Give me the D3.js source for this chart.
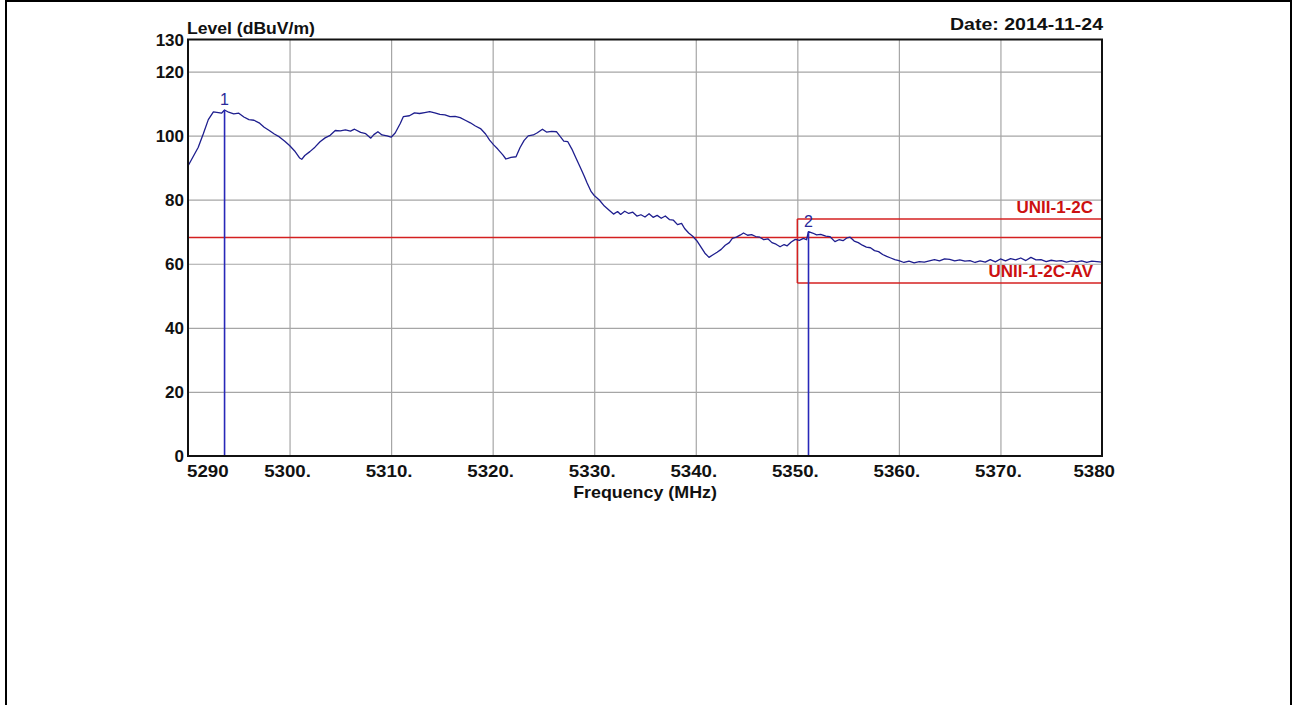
<!DOCTYPE html>
<html>
<head>
<meta charset="utf-8">
<script src="https://cdn.jsdelivr.net/npm/d3@7"></script>
<style>
  html, body { margin: 0; padding: 0; background: #fff; }
  svg { display: block; }
  text { font-family: "Liberation Sans", Arial, sans-serif; }
</style>
</head>
<body>
<svg id="chart" width="1292" height="705"></svg>
<script>
// ---------------- data ----------------
const freqTicks = [5290, 5300, 5310, 5320, 5330, 5340, 5350, 5360, 5370, 5380];
const freqTickLabels = ["5290", "5300.", "5310.", "5320.", "5330.", "5340.", "5350.", "5360.", "5370.", "5380"];
const levelTicks = [0, 20, 40, 60, 80, 100, 120, 130];
const levelTickLabels = ["0", "20", "40", "60", "80", "100", "120", "130"];
const levelGrid = [20, 40, 60, 80, 100, 120];

// measured trace: [frequency MHz, level dBuV/m]
const trace = [
  [5290.0,90.5],[5290.5,93.4],[5291.0,96.3],[5291.5,100.5],[5292.0,105.0],[5292.5,107.4],
  [5293.0,107.2],[5293.3,107.0],[5293.6,108.0],[5294.0,107.3],[5294.5,106.8],[5295.0,107.0],
  [5295.5,105.8],[5296.0,105.0],[5296.5,104.8],[5297.0,104.0],[5297.5,102.6],[5298.0,101.6],
  [5298.5,100.5],[5299.0,99.6],[5299.5,98.3],[5300.0,96.9],[5300.5,95.2],[5301.0,93.0],
  [5301.2,92.6],[5301.5,93.8],[5302.0,95.0],[5302.5,96.4],[5303.0,98.1],[5303.5,99.3],
  [5304.0,100.1],[5304.5,101.6],[5305.0,101.5],[5305.5,101.8],[5306.0,101.4],[5306.4,102.0],
  [5307.0,101.0],[5307.5,100.6],[5308.0,99.2],[5308.3,100.3],[5308.7,101.2],[5309.1,100.2],
  [5309.6,99.9],[5310.0,99.5],[5310.4,100.8],[5310.9,103.8],[5311.2,105.9],[5311.8,106.2],
  [5312.3,107.1],[5312.8,106.9],[5313.3,107.2],[5313.8,107.5],[5314.3,107.1],[5314.8,106.6],
  [5315.3,106.5],[5315.8,105.9],[5316.3,106.0],[5316.8,105.6],[5317.3,104.8],[5317.8,104.0],
  [5318.3,103.0],[5318.8,102.2],[5319.3,100.5],[5319.7,98.6],[5320.1,97.1],[5320.5,95.8],
  [5321.0,94.0],[5321.3,92.7],[5321.8,93.2],[5322.3,93.4],[5322.7,96.3],[5323.1,98.5],
  [5323.5,99.9],[5324.0,100.2],[5324.4,100.9],[5324.9,102.0],[5325.3,101.1],[5325.8,101.3],
  [5326.3,101.2],[5326.7,99.5],[5327.0,98.3],[5327.4,98.1],[5327.8,95.8],[5328.2,93.0],
  [5328.6,90.3],[5329.0,87.5],[5329.3,85.2],[5329.7,82.5],[5330.0,81.3],[5330.5,79.9],
  [5331.0,78.0],[5331.5,76.6],[5331.9,75.5],[5332.3,76.3],[5332.6,75.4],[5333.0,76.4],
  [5333.4,75.7],[5333.8,76.1],[5334.2,74.9],[5334.6,75.3],[5335.0,74.6],[5335.4,75.6],
  [5335.8,74.5],[5336.2,75.1],[5336.6,74.2],[5337.0,74.9],[5337.4,73.8],[5337.8,73.6],
  [5338.2,72.2],[5338.6,72.6],[5338.9,71.0],[5339.3,69.6],[5339.7,68.6],[5340.1,67.2],
  [5340.5,65.3],[5340.9,63.3],[5341.3,62.0],[5341.7,62.8],[5342.1,63.6],[5342.5,64.5],
  [5342.9,65.8],[5343.3,66.6],[5343.6,67.9],[5344.0,68.3],[5344.4,69.0],[5344.7,69.6],
  [5345.1,68.9],[5345.5,69.1],[5345.9,68.5],[5346.3,68.3],[5346.7,67.5],[5347.1,67.8],
  [5347.5,66.6],[5347.9,66.1],[5348.3,65.3],[5348.7,66.0],[5349.0,65.6],[5349.4,66.8],
  [5349.8,67.6],[5350.2,67.3],[5350.6,67.9],[5350.9,67.5],[5351.1,70.0],[5351.5,69.6],
  [5351.9,69.0],[5352.3,69.2],[5352.8,68.6],[5353.2,68.5],[5353.7,66.9],[5354.1,67.5],
  [5354.5,67.2],[5354.9,68.1],[5355.2,68.3],[5355.6,67.1],[5356.0,66.6],[5356.4,65.8],
  [5356.8,65.2],[5357.2,65.0],[5357.6,64.1],[5358.0,63.8],[5358.4,62.9],[5358.8,62.3],
  [5359.2,61.8],[5359.6,61.3],[5360.0,61.0],[5360.5,60.4],[5361.0,60.8],[5361.5,60.3],
  [5362.0,60.7],[5362.5,60.5],[5363.0,60.9],[5363.5,61.3],[5364.0,60.9],[5364.5,61.5],
  [5365.0,61.4],[5365.5,60.9],[5366.0,61.2],[5366.5,60.8],[5367.0,61.0],[5367.5,60.4],
  [5368.0,60.9],[5368.5,60.5],[5369.0,61.3],[5369.5,60.6],[5370.0,61.5],[5370.5,60.9],
  [5371.0,61.6],[5371.5,61.2],[5372.0,61.8],[5372.5,61.0],[5373.0,62.0],[5373.5,61.2],
  [5374.0,61.3],[5374.5,60.7],[5375.0,61.1],[5375.5,60.8],[5376.0,61.0],[5376.5,60.5],
  [5377.0,60.9],[5377.5,60.6],[5378.0,60.9],[5378.5,60.4],[5379.0,60.8],[5379.5,60.7],
  [5380.0,60.5]
];

const fullLimitLevel = 68.2;                 // full-width red line
const bandLimitNames = ["UNII-1-2C", "UNII-1-2C-AV"];
const bandLimitLevels = [74, 54];
const bandLimitStart = 5350;
const bandLimitEnd = 5380;

const markerIds = ["1", "2"];
const markerFreqs = [5293.6, 5351.1];
const markerLevels = [108.0, 70.0];

const yTitle = "Level (dBuV/m)";
const xTitle = "Frequency (MHz)";
const dateText = "Date: 2014-11-24";

// ---------------- layout ----------------
const W = 1292, H = 705;
const plot = { left: 188, right: 1102, top: 39.5, bottom: 456 };

const svg = d3.select("#chart");

// outer frame
svg.append("rect")
  .attr("x", 6).attr("y", 1).attr("width", 1285).attr("height", 730)
  .attr("fill", "#fff").attr("stroke", "#000").attr("stroke-width", 2);

const x = d3.scaleLinear().domain([5290, 5380]).range([plot.left, plot.right]);
const y = d3.scaleLinear().domain([0, 130]).range([plot.bottom, plot.top]);

function stretch(sel, sx) {
  sel.each(function () {
    const t = d3.select(this);
    const tx = +t.attr("x"), ty = +t.attr("y");
    t.attr("transform", `translate(${tx},${ty}) scale(${sx},1)`).attr("x", 0).attr("y", 0);
  });
}

// grid via axes
const gridColor = "#a6a6a6";
const gx = svg.append("g")
  .attr("transform", `translate(0,${plot.bottom})`)
  .call(d3.axisBottom(x).tickValues(freqTicks.slice(1, -1)).tickSize(-(plot.bottom - plot.top)).tickFormat(""));
gx.select(".domain").remove();
gx.selectAll("line").attr("stroke", gridColor).attr("stroke-width", 1.2);

const gy = svg.append("g")
  .attr("transform", `translate(${plot.left},0)`)
  .call(d3.axisLeft(y).tickValues(levelGrid).tickSize(-(plot.right - plot.left)).tickFormat(""));
gy.select(".domain").remove();
gy.selectAll("line").attr("stroke", gridColor).attr("stroke-width", 1.2);

// red limit lines
const red = "#d42020";
svg.append("line")
  .attr("x1", x(5290)).attr("x2", x(5380))
  .attr("y1", y(fullLimitLevel)).attr("y2", y(fullLimitLevel))
  .attr("stroke", red).attr("stroke-width", 1.5);

svg.selectAll(".band")
  .data(bandLimitLevels)
  .join("line")
  .attr("class", "band")
  .attr("x1", x(bandLimitStart)).attr("x2", x(bandLimitEnd))
  .attr("y1", d => y(d)).attr("y2", d => y(d))
  .attr("stroke", red).attr("stroke-width", 1.5);

svg.append("line")
  .attr("x1", x(bandLimitStart)).attr("x2", x(bandLimitStart))
  .attr("y1", y(d3.max(bandLimitLevels))).attr("y2", y(d3.min(bandLimitLevels)))
  .attr("stroke", red).attr("stroke-width", 1.5);

// trace
const navy = "#1e1e8e";
svg.append("path")
  .datum(trace)
  .attr("fill", "none")
  .attr("stroke", navy)
  .attr("stroke-width", 1.3)
  .attr("stroke-linejoin", "round")
  .attr("d", d3.line().x(d => x(d[0])).y(d => y(d[1])));

// markers
svg.selectAll(".mk")
  .data(markerFreqs)
  .join("line")
  .attr("class", "mk")
  .attr("x1", d => x(d)).attr("x2", d => x(d))
  .attr("y1", y(0)).attr("y2", (d, i) => y(markerLevels[i]))
  .attr("stroke", "#2828b8").attr("stroke-width", 1.6);

svg.selectAll(".mkl")
  .data(markerIds)
  .join("text")
  .attr("class", "mkl")
  .attr("x", (d, i) => x(markerFreqs[i]))
  .attr("y", (d, i) => y(markerLevels[i]) - 5)
  .attr("text-anchor", "middle")
  .attr("font-size", 16)
  .attr("fill", "#2a2a9a")
  .text(d => d);

// band limit labels
svg.selectAll(".bl")
  .data(bandLimitNames)
  .join("text")
  .attr("class", "bl")
  .attr("x", x(bandLimitEnd) - 9)
  .attr("y", (d, i) => y(bandLimitLevels[i]) - 6)
  .attr("text-anchor", "end")
  .attr("font-size", 17)
  .attr("font-weight", "bold")
  .attr("fill", "#cc1010")
  .text(d => d);

// plot border
svg.append("rect")
  .attr("x", plot.left).attr("y", plot.top)
  .attr("width", plot.right - plot.left).attr("height", plot.bottom - plot.top)
  .attr("fill", "none").attr("stroke", "#111").attr("stroke-width", 2);

// y tick labels
svg.selectAll(".yl")
  .data(levelTicks)
  .join("text")
  .attr("class", "yl")
  .attr("x", 184)
  .attr("y", d => y(d) + 6)
  .attr("text-anchor", "end")
  .attr("font-size", 17)
  .attr("font-weight", "bold")
  .attr("fill", "#111")
  .text((d, i) => levelTickLabels[i]);

// x tick labels
const nX = freqTicks.length;
const xl = svg.selectAll(".xl")
  .data(freqTicks)
  .join("text")
  .attr("class", "xl")
  .attr("x", (d, i) => i === 0 ? x(d) - 1 : (i === nX - 1 ? x(d) + 13 : x(d) - 2))
  .attr("y", 477)
  .attr("text-anchor", (d, i) => i === 0 ? "start" : (i === nX - 1 ? "end" : "middle"))
  .attr("font-size", 17)
  .attr("font-weight", "bold")
  .attr("fill", "#111")
  .text((d, i) => freqTickLabels[i]);
stretch(xl, 1.1);

// titles
const yt = svg.append("text")
  .attr("x", 187).attr("y", 34)
  .attr("font-size", 16).attr("font-weight", "bold").attr("fill", "#111")
  .text(yTitle);
stretch(yt, 1.1);

const dt = svg.append("text")
  .attr("x", 1103).attr("y", 30)
  .attr("text-anchor", "end")
  .attr("font-size", 17).attr("font-weight", "bold").attr("fill", "#111")
  .text(dateText);
stretch(dt, 1.15);

const xt = svg.append("text")
  .attr("x", 645).attr("y", 498)
  .attr("text-anchor", "middle")
  .attr("font-size", 17).attr("font-weight", "bold").attr("fill", "#111")
  .text(xTitle);
stretch(xt, 1.05);
</script>
</body>
</html>
